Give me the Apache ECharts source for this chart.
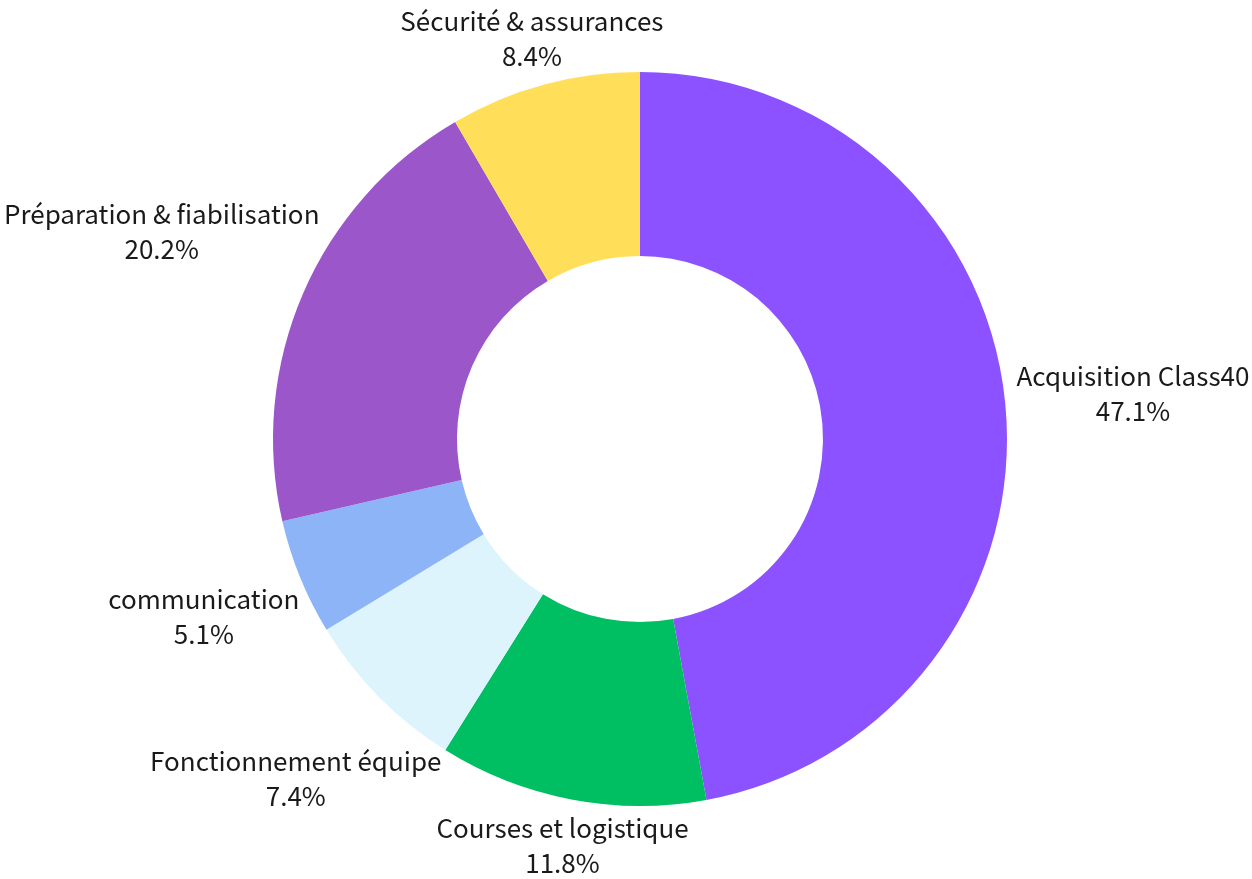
<!DOCTYPE html>
<html>
<head>
<meta charset="utf-8">
<script src="https://cdn.jsdelivr.net/npm/echarts@6/dist/echarts.min.js"></script>
<style>
  html, body { margin: 0; padding: 0; background: #fff; }
  #chart { width: 1252px; height: 879px; }
</style>
</head>
<body>
<div id="chart"></div>
<script>
// répartition du budget (en %)
const categories = [
  'Acquisition Class40',
  'Courses et logistique',
  'Fonctionnement équipe',
  'communication',
  'Préparation & fiabilisation',
  'Sécurité & assurances'
];
const values = [47.1, 11.8, 7.4, 5.1, 20.2, 8.4];
const colors = ['#8c52ff', '#00bf63', '#ddf4fd', '#8cb4f7', '#9b57c9', '#ffde59'];

const CX = 640;
const CY = 439;
const R_IN = 183;
const R_OUT = 367;
const GAP = 11;      // écart entre l'anneau et l'étiquette (le long du rayon)
const CLEAR = 363;   // distance mini entre le centre et le cadre de l'étiquette

const chart = echarts.init(document.getElementById('chart'));

// distance du centre au point le plus proche d'un cadre centré en (x, y)
function boxDist(x, y, hw, hh) {
  const nx = Math.max(x - hw, Math.min(0, x + hw));
  const ny = Math.max(y - hh, Math.min(0, y + hh));
  return Math.sqrt(nx * nx + ny * ny);
}

chart.setOption({
  animation: false,
  series: [
    {
      type: 'pie',
      center: [CX, CY],
      radius: [R_IN, R_OUT],
      startAngle: 90,
      clockwise: true,
      avoidLabelOverlap: false,
      itemStyle: { borderWidth: 0 },
      label: {
        show: true,
        position: 'outside',
        color: '#1a1a1a',
        fontFamily: 'Noto Sans CJK SC',
        fontSize: 26,
        lineHeight: 35,
        formatter: (p) => p.name + '\n' + p.value.toFixed(1) + '%'
      },
      labelLine: { show: true, length: 10, length2: 0, lineStyle: { opacity: 0 } },
      // étiquette centrée sur le rayon médian de la part, poussée hors de l'anneau
      labelLayout(params) {
        const pts = params.labelLinePoints;
        if (!pts) return {};
        const dx = pts[0][0] - CX;
        const dy = pts[0][1] - CY;
        const len = Math.sqrt(dx * dx + dy * dy) || 1;
        const ux = dx / len;
        const uy = dy / len;
        const hw = params.labelRect.width / 2;
        const hh = params.labelRect.height / 2;
        const tx = Math.abs(ux) > 1e-6 ? hw / Math.abs(ux) : Infinity;
        const ty = Math.abs(uy) > 1e-6 ? hh / Math.abs(uy) : Infinity;
        let t = len + GAP + Math.min(tx, ty);
        while (boxDist(ux * t, uy * t, hw, hh) < CLEAR && t < len + 400) t += 1;
        return {
          x: CX + ux * t,
          y: CY + uy * t,
          align: 'center',
          verticalAlign: 'middle'
        };
      },
      data: categories.map((name, i) => ({
        name,
        value: values[i],
        itemStyle: { color: colors[i] }
      }))
    }
  ]
});
</script>
</body>
</html>
